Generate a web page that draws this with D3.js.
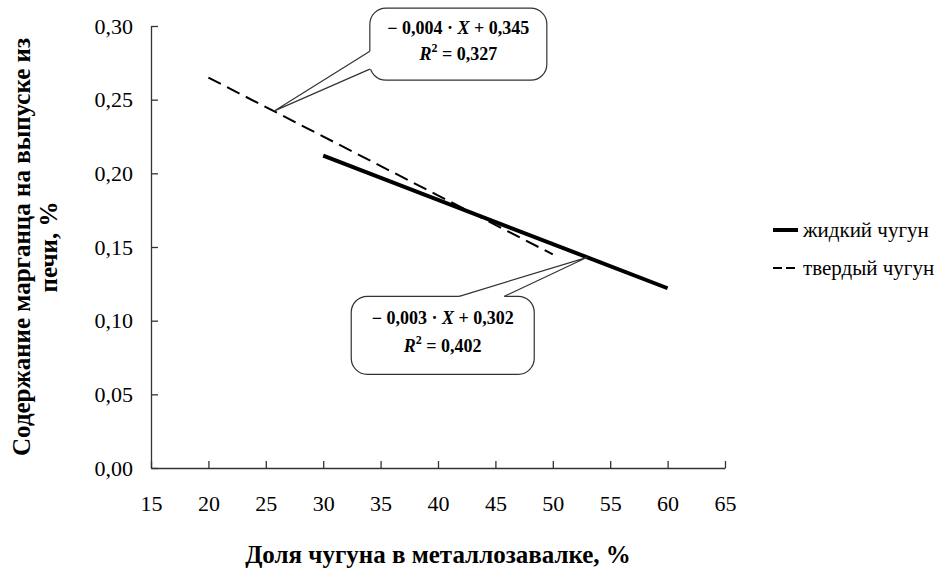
<!DOCTYPE html>
<html>
<head>
<meta charset="utf-8">
<script src="https://cdn.jsdelivr.net/npm/d3@7"></script>
<style>
  body { margin: 0; background: #fff; }
  svg, text, tspan { font-family: "Liberation Serif", "Times New Roman", Times, serif; fill: #000; }
</style>
</head>
<body>
<script>
// данные
const seriesNames = ["жидкий чугун", "твердый чугун"];
const liquidX = [30, 60];
const liquidY = [0.212, 0.122];
const solidX = [20, 50];
const solidY = [0.265, 0.145];
const xTicks = [15, 20, 25, 30, 35, 40, 45, 50, 55, 60, 65];
const yTicks = [0, 0.05, 0.10, 0.15, 0.20, 0.25, 0.30];
const liquidEq = ["− 0,003 · ", "X", " + 0,302", "0,402"];
const solidEq = ["− 0,004 · ", "X", " + 0,345", "0,327"];
const xTitle = "Доля чугуна в металлозавалке, %";
const yTitle = ["Содержание марганца на выпуске из", "печи, %"];

let width = 940;
let height = 572;
let margin = { top: 26, bottom: 104, left: 151, right: 215 };
const serif = "'Liberation Serif', 'Times New Roman', serif";

const escalaX = d3.scaleLinear()
  .domain([15, 65])
  .range([margin.left, width - margin.right]);
const escalaY = d3.scaleLinear()
  .domain([0, 0.30])
  .range([height - margin.bottom, margin.top]);

let svg = d3.select("body")
  .append("svg")
  .attr("width", width)
  .attr("height", height)
  .attr("font-family", serif);

// ejes
let ejeX = d3.axisBottom(escalaX)
  .tickValues(xTicks)
  .tickSizeInner(-7)
  .tickSizeOuter(0)
  .tickPadding(27)
  .tickFormat(d3.format("d"));
svg.append("g")
  .attr("transform", "translate(0," + (height - margin.bottom) + ")")
  .call(ejeX)
  .attr("font-family", serif)
  .attr("font-size", 22)
  .call(g => g.selectAll("line, path").attr("stroke", "#333").attr("stroke-width", 1.3));

let ejeY = d3.axisLeft(escalaY)
  .tickValues(yTicks)
  .tickSizeInner(-7)
  .tickSizeOuter(0)
  .tickPadding(18)
  .tickFormat(d => d3.format(".2f")(d).replace(".", ","));
svg.append("g")
  .attr("transform", "translate(" + margin.left + ",0)")
  .call(ejeY)
  .attr("font-family", serif)
  .attr("font-size", 22)
  .call(g => g.selectAll("line, path").attr("stroke", "#333").attr("stroke-width", 1.3));

// líneas
const linea = d3.line().x(d => escalaX(d[0])).y(d => escalaY(d[1]));
svg.append("path")
  .datum(d3.zip(solidX, solidY))
  .attr("d", linea)
  .attr("fill", "none")
  .attr("stroke", "#000")
  .attr("stroke-width", 2)
  .attr("stroke-dasharray", "14,7");
svg.append("path")
  .datum(d3.zip(liquidX, liquidY))
  .attr("d", linea)
  .attr("fill", "none")
  .attr("stroke", "#000")
  .attr("stroke-width", 4);

// llamadas con ecuaciones
function callout(tip, box, b1, b2, eq) {
  let g = svg.append("g");
  g.append("rect")
    .attr("x", box.x).attr("y", box.y)
    .attr("width", box.w).attr("height", box.h)
    .attr("rx", 16).attr("ry", 16)
    .attr("fill", "#fff").attr("stroke", "#333").attr("stroke-width", 1.2);
  // tapar el borde entre los puntos de la cuña
  let inX = b1[0] === b2[0] ? (b1[0] === box.x ? 2 : -2) : 0;
  let inY = b1[1] === b2[1] ? (b1[1] === box.y ? 2 : -2) : 0;
  g.append("polygon")
    .attr("points", [tip, b1, [b1[0] + inX, b1[1] + inY], [b2[0] + inX, b2[1] + inY], b2].map(p => p.join(",")).join(" "))
    .attr("fill", "#fff");
  g.append("path")
    .attr("d", "M" + b1 + "L" + tip + "L" + b2)
    .attr("fill", "none").attr("stroke", "#333").attr("stroke-width", 1.2);
  let cx = box.x + box.w / 2;
  let t1 = g.append("text")
    .attr("x", cx).attr("y", box.y + box.h * 0.36)
    .attr("text-anchor", "middle").attr("font-size", 18).attr("font-weight", "bold");
  t1.append("tspan").text(eq[0]);
  t1.append("tspan").attr("font-style", "italic").text(eq[1]);
  t1.append("tspan").text(eq[2]);
  let t2 = g.append("text")
    .attr("x", cx).attr("y", box.y + box.h * 0.72)
    .attr("text-anchor", "middle").attr("font-size", 18).attr("font-weight", "bold");
  t2.append("tspan").attr("font-style", "italic").text("R");
  t2.append("tspan").attr("font-size", 12).attr("dy", -8).text("2");
  t2.append("tspan").attr("dy", 8).text(" = " + eq[3]);
}

let tipSolid = [escalaX(25.7), escalaY(0.345 - 0.004 * 25.7)];
callout(tipSolid,
  { x: tipSolid[0] + 96, y: tipSolid[1] - 103, w: 177, h: 72 },
  [tipSolid[0] + 96, tipSolid[1] - 60], [tipSolid[0] + 96, tipSolid[1] - 42],
  solidEq);

let tipLiquid = [escalaX(53), escalaY(0.302 - 0.003 * 53)];
callout(tipLiquid,
  { x: tipLiquid[0] - 236, y: tipLiquid[1] + 39, w: 183, h: 78 },
  [tipLiquid[0] - 128, tipLiquid[1] + 39], [tipLiquid[0] - 83, tipLiquid[1] + 39],
  liquidEq);

// leyenda
let leyenda = svg.append("g").attr("transform", "translate(773,230)");
seriesNames.forEach((nombre, i) => {
  let fila = leyenda.append("g").attr("transform", "translate(0," + i * 38 + ")");
  fila.append("line")
    .attr("x1", 0).attr("x2", 25).attr("y1", 0).attr("y2", 0)
    .attr("stroke", "#000")
    .attr("stroke-width", i === 0 ? 4 : 2)
    .attr("stroke-dasharray", i === 0 ? null : "9,4");
  fila.append("text")
    .attr("x", 30).attr("y", 7)
    .attr("font-size", 21)
    .text(nombre);
});

// títulos
svg.append("text")
  .attr("x", (margin.left + width - margin.right) / 2)
  .attr("y", 563)
  .attr("text-anchor", "middle")
  .attr("font-size", 25)
  .attr("font-weight", "bold")
  .text(xTitle);

let tituloY = svg.append("text")
  .attr("transform", "translate(30,247) rotate(-90)")
  .attr("text-anchor", "middle")
  .attr("font-size", 25)
  .attr("font-weight", "bold");
yTitle.forEach((linea, i) => {
  tituloY.append("tspan").attr("x", 0).attr("dy", i === 0 ? 0 : 27).text(linea);
});
</script>
</body>
</html>
